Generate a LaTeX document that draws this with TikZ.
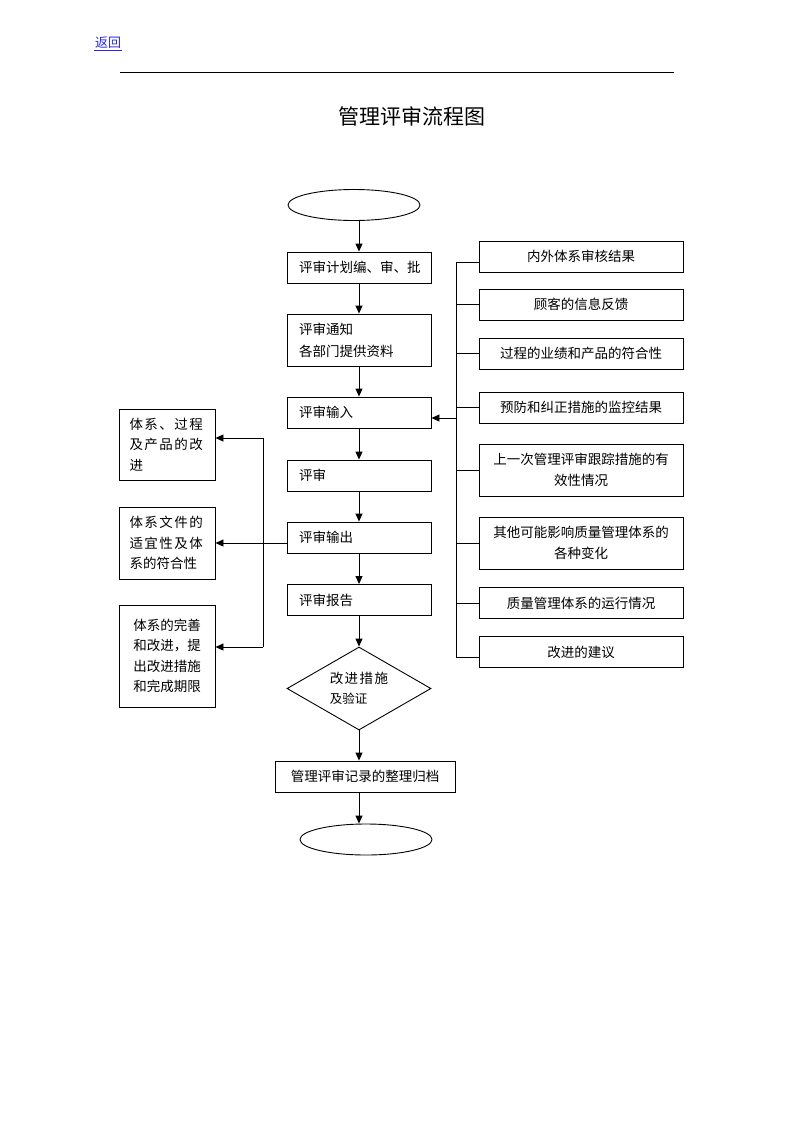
\documentclass[tikz,border=0pt]{standalone}
\usepackage{fontspec}
\setmainfont{Noto Sans CJK SC}
\newfontfamily\spacedfont[LetterSpace=11]{Noto Sans CJK SC}
\usetikzlibrary{arrows.meta,shapes.geometric}

\definecolor{linkblue}{RGB}{40,40,230}

\tikzset{
    flowline/.style={line width=0.9pt},
    arr/.style={flowline, -{Triangle[length=8pt,width=7pt]}},
    stepbox/.style={draw, line width=0.9pt, minimum width=144pt, minimum height=31pt,
        text width=120pt, inner xsep=12pt, inner ysep=0pt, align=left,
        font=\fontsize{13.5}{22}\selectfont},
    inbox/.style={draw, line width=0.9pt, minimum width=204pt, minimum height=31pt,
        text width=192pt, inner xsep=6pt, inner ysep=0pt, align=center,
        font=\fontsize{13.5}{21}\selectfont},
    outbox/.style={draw, line width=0.9pt, minimum width=96pt, text width=75pt,
        inner xsep=10.5pt, inner ysep=0pt, align=left,
        font=\fontsize{13.5}{20.5}\selectfont},
    term/.style={draw, ellipse, line width=0.9pt, minimum width=132pt,
        minimum height=31pt, inner sep=0pt},
    decide/.style={draw, diamond, aspect=2, line width=0.9pt, minimum width=144pt,
        minimum height=83pt, inner sep=0pt, align=left,
        font=\fontsize{13.5}{20}\selectfont}
}

\begin{document}
\begin{tikzpicture}[x=1pt, y=-1pt]
    \useasboundingbox (0,0) rectangle (793,1122);

    % page head
    \node[text=linkblue, inner sep=1pt, font=\fontsize{13}{13}\selectfont] (back) at (108,43) {返回};
    \draw[linkblue, line width=0.8pt] (back.south west) -- (back.south east);
    \draw[line width=1pt] (120,72) -- (674,72);
    \node[font=\fontsize{21}{21}\selectfont] (title) at (411.5,116) {管理评审流程图};

    % main flow
    \node[term] (start) at (354,205) {};
    \node[stepbox] (plan) at (359,267.5) {评审计划编、审、批};
    \node[stepbox, minimum height=52pt] (notice) at (359,340) {评审通知\\各部门提供资料};
    \node[stepbox] (input) at (359,412.5) {评审输入};
    \node[stepbox] (review) at (359,475.5) {评审};
    \node[stepbox] (output) at (359,537.5) {评审输出};
    \node[stepbox] (report) at (359,600) {评审报告};
    \node[decide] (verify) at (359,688.5) {{\spacedfont 改进措施}\\{\fontsize{12.5}{12.5}\selectfont 及验证}};
    \node[stepbox, minimum width=180pt, text width=156pt, align=center] (archive) at (365,776.5) {管理评审记录的整理归档};
    \node[term] (stop) at (366,839.5) {};

    \draw[arr] (start.south -| plan) -- (plan.north);
    \draw[arr] (plan) -- (notice);
    \draw[arr] (notice) -- (input);
    \draw[arr] (input) -- (review);
    \draw[arr] (review) -- (output);
    \draw[arr] (output) -- (report);
    \draw[arr] (report) -- (verify);
    \draw[arr] (verify.south) -- (archive.north -| verify);
    \draw[arr] (archive.south -| verify) -- (stop.north -| verify);

    % review inputs
    \node[inbox] (audit) at (581,256.5) {内外体系审核结果};
    \node[inbox] (customer) at (581,304.5) {顾客的信息反馈};
    \node[inbox] (conform) at (581,353.5) {过程的业绩和产品的符合性};
    \node[inbox] (corrective) at (581,407.5) {预防和纠正措施的监控结果};
    \node[inbox, minimum height=52pt] (followup) at (581,470) {上一次管理评审跟踪措施的有\\效性情况};
    \node[inbox, minimum height=52pt] (changes) at (581,543) {其他可能影响质量管理体系的\\各种变化};
    \node[inbox] (running) at (581,603) {质量管理体系的运行情况};
    \node[inbox] (suggest) at (581,652) {改进的建议};

    \coordinate (inbus) at (456,0);
    \draw[flowline] ([yshift=-6pt]audit.west) -- ([yshift=-6pt]audit.west -| inbus)
        -- ([yshift=-5pt]suggest.west -| inbus) -- ([yshift=-5pt]suggest.west);
    \foreach \n in {customer,conform,corrective,followup,changes,running}
        \draw[flowline] (\n.west) -- (\n.west -| inbus);
    \draw[arr] ([yshift=-5.5pt]input.east -| inbus) -- ([yshift=-5.5pt]input.east);

    % review outputs
    \node[outbox, minimum height=71pt] (improve) at (167,444.5) {{\spacedfont 体系、过程}\\{\spacedfont 及产品的改}\\进};
    \node[outbox, minimum height=72pt] (suitable) at (167,543) {{\spacedfont 体系文件的}\\{\spacedfont 适宜性及体}\\系的符合性};
    \node[outbox, minimum height=102pt, align=center] (perfect) at (167,656) {体系的完善\\和改进，提\\出改进措施\\和完成期限};

    \coordinate (outbus) at (263,0);
    \draw[flowline] ([yshift=6.5pt]improve.east -| outbus) -- ([yshift=9pt]perfect.east -| outbus);
    \draw[arr] ([yshift=6.5pt]improve.east -| outbus) -- ([yshift=6.5pt]improve.east);
    \draw[arr] (output.west |- suitable.east) -- (suitable.east);
    \draw[arr] ([yshift=9pt]perfect.east -| outbus) -- ([yshift=9pt]perfect.east);
\end{tikzpicture}
\end{document}
